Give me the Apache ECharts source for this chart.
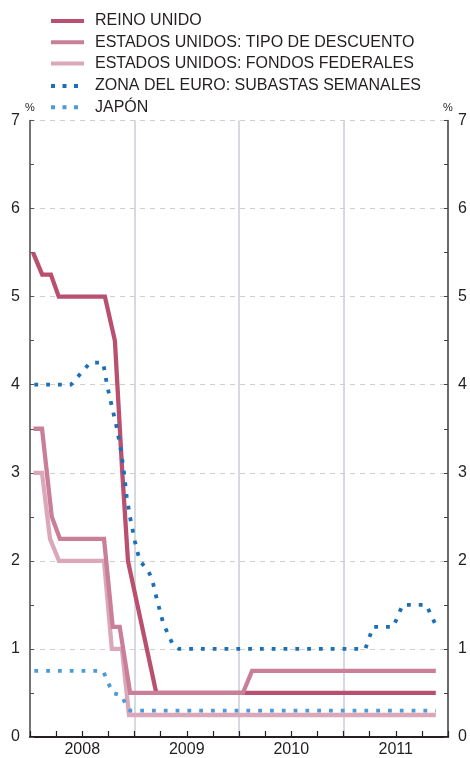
<!DOCTYPE html>
<html>
<head>
<meta charset="utf-8">
<script src="https://cdn.jsdelivr.net/npm/echarts@6/dist/echarts.min.js"></script>
<style>
html,body{margin:0;padding:0;background:#fff;}
#c{width:470px;height:758px;}
</style>
</head>
<body>
<div id="c"></div>
<script>
// x values: months since 1 Jan 2008
var seriesNames = ['REINO UNIDO','ESTADOS UNIDOS: TIPO DE DESCUENTO','ESTADOS UNIDOS: FONDOS FEDERALES','ZONA DEL EURO: SUBASTAS SEMANALES','JAPÓN'];
var yearLabels = ['2008','2009','2010','2011'];

var ukMonths = [0.35, 1.4, 2.4, 3.3, 8.6, 9.75, 10.6, 11.25, 14.5, 46.6];
var ukRates  = [5.5, 5.25, 5.25, 5.0, 5.0, 4.5, 3.0, 2.0, 0.5, 0.5];

var usDiscMonths = [0.4, 1.38, 2.5, 3.44, 8.5, 9.5, 10.3, 11.5, 24.45, 25.5, 46.6];
var usDiscRates  = [3.5, 3.5, 2.5, 2.25, 2.25, 1.25, 1.25, 0.5, 0.5, 0.75, 0.75];

var usFedMonths = [0.4, 1.38, 2.3, 3.33, 8.5, 9.4, 10.56, 11.37, 46.6];
var usFedRates  = [3.0, 3.0, 2.25, 2.0, 2.0, 1.0, 1.0, 0.25, 0.25];

var euroMonths = [0.5, 4.7, 6.9, 8.4, 8.84, 9.41, 9.99, 10.45, 10.8, 11.1, 11.5, 12.05, 12.6, 13.5, 14.0, 14.6, 15.3, 16.4, 17.1, 38.5, 39.4, 41.7, 42.8, 45.5, 46.6];
var euroRates  = [4.0, 4.0, 4.25, 4.25, 4.0, 3.75, 3.5, 3.25, 3.0, 2.73, 2.49, 2.22, 2.0, 1.9, 1.8, 1.55, 1.29, 1.05, 1.0, 1.0, 1.25, 1.25, 1.5, 1.5, 1.27];

var japanMonths = [0.5, 8.4, 8.96, 9.5, 10.56, 11.1, 11.5, 46.6];
var japanRates  = [0.75, 0.75, 0.62, 0.5, 0.47, 0.34, 0.3, 0.3];

function pairs(xs, ys){ return xs.map(function(x,i){ return [x, ys[i]]; }); }

var FONT = '"Liberation Sans", Arial, sans-serif';
var TXT = '#231f20';
var colUK = '#b9506f', colDisc = '#c97f97', colFed = '#dca8b9', colEuro = '#1a6fb5', colJap = '#4c9bd8';

var chart = echarts.init(document.getElementById('c'), null, {renderer:'canvas'});

function lineSeries(name, data, color, dotted, z){
  return {
    name: name, type: 'line', data: data, symbol: 'none', z: z,
    xAxisIndex: 0, yAxisIndex: 0,
    lineStyle: { color: color, width: dotted ? 3.8 : 4.3, type: dotted ? [3.8, 8] : 'solid', cap: 'butt', join: 'miter' },
    itemStyle: { color: color },
    emphasis: { disabled: true },
    animation: false
  };
}

var solidIcon = 'path://M0,0h33v4h-33z';
var dotIcon = 'path://M0,0h4v4h-4zM11.5,0h4v4h-4zM23,0h4v4h-4z';

function yAxisPair(pos, color, margin){
  return [
    {
      type: 'value', position: pos, min: 0, max: 7, interval: 1,
      axisLine: { show: true, lineStyle: { color: color, width: 1.5 } },
      axisTick: { show: false },
      axisLabel: { margin: margin, fontSize: 16, color: TXT, fontFamily: FONT },
      splitLine: { show: pos === 'left', lineStyle: { color: '#cfcfcf', type: [5, 5], width: 1 } }
    },
    {
      type: 'value', position: pos, min: 0, max: 7, interval: 0.5,
      axisLine: { show: false },
      axisTick: { show: true, inside: true, length: 4, lineStyle: { color: color, width: 1 } },
      axisLabel: { show: false },
      splitLine: { show: false }
    }
  ];
}

var option = {
  animation: false,
  textStyle: { fontFamily: FONT },
  grid: { left: 30, right: 22, top: 120.5, bottom: 18, containLabel: false },
  legend: [
    {
      orient: 'vertical', left: 46, top: 8,
      itemWidth: 33, itemHeight: 14, itemGap: 5.3,
      data: [
        { name: seriesNames[0], icon: solidIcon },
        { name: seriesNames[1], icon: solidIcon },
        { name: seriesNames[2], icon: solidIcon }
      ],
      textStyle: { fontFamily: FONT, fontSize: 16, color: TXT, padding: [0,0,0,6], lineHeight: 16 },
      selectedMode: false
    },
    {
      orient: 'vertical', left: 46, top: 72.9,
      itemWidth: 27, itemHeight: 14, itemGap: 5.3,
      data: [
        { name: seriesNames[3], icon: dotIcon },
        { name: seriesNames[4], icon: dotIcon }
      ],
      textStyle: { fontFamily: FONT, fontSize: 16, color: TXT, padding: [0,0,0,12], lineHeight: 16 },
      selectedMode: false
    }
  ],
  xAxis: [
    {
      type: 'value', position: 'bottom', min: 0, max: 48, interval: 3,
      axisLine: { show: true, lineStyle: { color: '#231f20', width: 2 } },
      axisTick: { show: true, inside: true, length: 6, lineStyle: { color: '#231f20', width: 1.2 } },
      axisLabel: {
        show: true, margin: 5, fontSize: 16, color: TXT, fontFamily: FONT,
        formatter: function(v){ return (Math.round(v) % 12 === 6) ? yearLabels[Math.floor(v/12)] : ''; }
      },
      splitLine: { show: false }
    },
    {
      type: 'value', position: 'bottom', min: 0, max: 48, interval: 12,
      axisLine: { show: false }, axisTick: { show: false }, axisLabel: { show: false },
      splitLine: { show: true, lineStyle: { color: '#c9ccd6', width: 1.5 } }
    }
  ],
  yAxis: yAxisPair('left', '#555', 10).concat(yAxisPair('right', '#444', 10)),
  graphic: [
    { type: 'text', left: 25, top: 102, style: { text: '%', fontSize: 11, fill: TXT, fontFamily: FONT } },
    { type: 'text', left: 443, top: 102, style: { text: '%', fontSize: 11, fill: TXT, fontFamily: FONT } }
  ],
  series: [
    lineSeries(seriesNames[0], pairs(ukMonths, ukRates), colUK, false, 2),
    lineSeries(seriesNames[2], pairs(usFedMonths, usFedRates), colFed, false, 3),
    lineSeries(seriesNames[1], pairs(usDiscMonths, usDiscRates), colDisc, false, 4),
    lineSeries(seriesNames[3], pairs(euroMonths, euroRates), colEuro, true, 5),
    lineSeries(seriesNames[4], pairs(japanMonths, japanRates), colJap, true, 6)
  ]
};
chart.setOption(option);
</script>
</body>
</html>
